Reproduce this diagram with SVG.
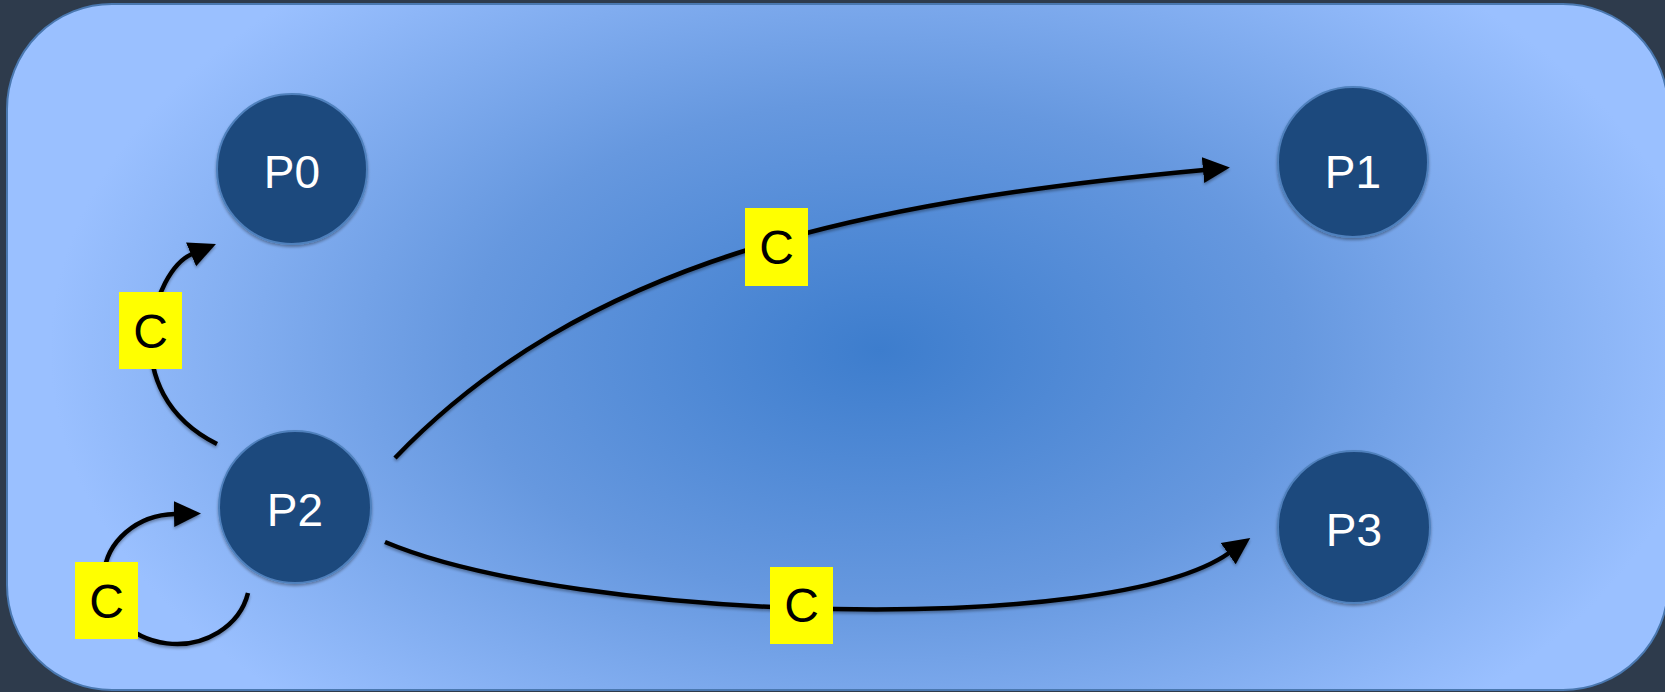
<svg xmlns="http://www.w3.org/2000/svg" width="1665" height="692" viewBox="0 0 1665 692">
<style>
.node circle{fill:#1f497d;stroke:#4f81bd;stroke-width:2;filter:url(#sh)}
.node text{fill:#ffffff;font-family:"Liberation Sans",Arial,sans-serif;font-size:46px;text-anchor:middle}
.edge{fill:none;stroke:#000;stroke-width:4.5;marker-end:url(#ah);filter:url(#sh)}
.lbl rect{fill:#ffff00}
.lbl text{fill:#000;font-family:"Liberation Sans",Arial,sans-serif;font-size:48px;text-anchor:middle}
</style>
<defs>
<radialGradient id="bg" gradientUnits="userSpaceOnUse" cx="880" cy="350" r="830" gradientTransform="translate(880 350) scale(1 0.6) translate(-880 -350)">
<stop offset="0" stop-color="#3d7dcd"/>
<stop offset="0.5" stop-color="#6698df"/>
<stop offset="1" stop-color="#9ac0ff"/>
</radialGradient>
<filter id="sh" x="-20%" y="-20%" width="140%" height="140%">
<feGaussianBlur in="SourceAlpha" stdDeviation="1.5"/>
<feOffset dx="0" dy="2" result="b"/>
<feComponentTransfer><feFuncA type="linear" slope="0.35"/></feComponentTransfer>
<feMerge><feMergeNode/><feMergeNode in="SourceGraphic"/></feMerge>
</filter>
<marker id="ah" markerUnits="userSpaceOnUse" markerWidth="30" markerHeight="30" refX="1" refY="13" orient="auto" viewBox="0 0 30 26">
<path d="M0,0 L27,13 L0,26 z" fill="#000"/>
</marker>
</defs>
<rect x="0" y="0" width="1665" height="692" fill="#2e3b4c"/>
<rect x="7" y="4" width="1661" height="686" rx="105" ry="105" fill="url(#bg)" stroke="#4a78b0" stroke-width="2"/>
<g id="connectors">
<path class="edge" d="M395,458 C582,263 850,203 1204,170"/>
<path class="edge" d="M385,542 C575,622 1110,637 1229,553"/>
<path class="edge" d="M217,444 C112,391 154,270 192,254"/>
<path class="edge" d="M248,593 A73 65 0 1 1 175,514"/>
</g>
<g id="P0" class="node"><circle cx="292" cy="169" r="75"/><text x="292" y="188">P0</text></g>
<g id="P1" class="node"><circle cx="1353" cy="162" r="75"/><text x="1353" y="188">P1</text></g>
<g id="P2" class="node"><circle cx="295" cy="507" r="76"/><text x="295" y="526">P2</text></g>
<g id="P3" class="node"><circle cx="1354" cy="527" r="76"/><text x="1354" y="546">P3</text></g>
<g id="label-P2-P1" class="lbl"><rect x="745" y="208" width="63" height="78"/><text x="776.5" y="264">C</text></g>
<g id="label-P2-P3" class="lbl"><rect x="770" y="567" width="63" height="77"/><text x="801.5" y="622">C</text></g>
<g id="label-P2-P0" class="lbl"><rect x="119" y="292" width="63" height="77"/><text x="150.5" y="348">C</text></g>
<g id="label-P2-P2" class="lbl"><rect x="75" y="562" width="63" height="77"/><text x="106.5" y="618">C</text></g>
</svg>
